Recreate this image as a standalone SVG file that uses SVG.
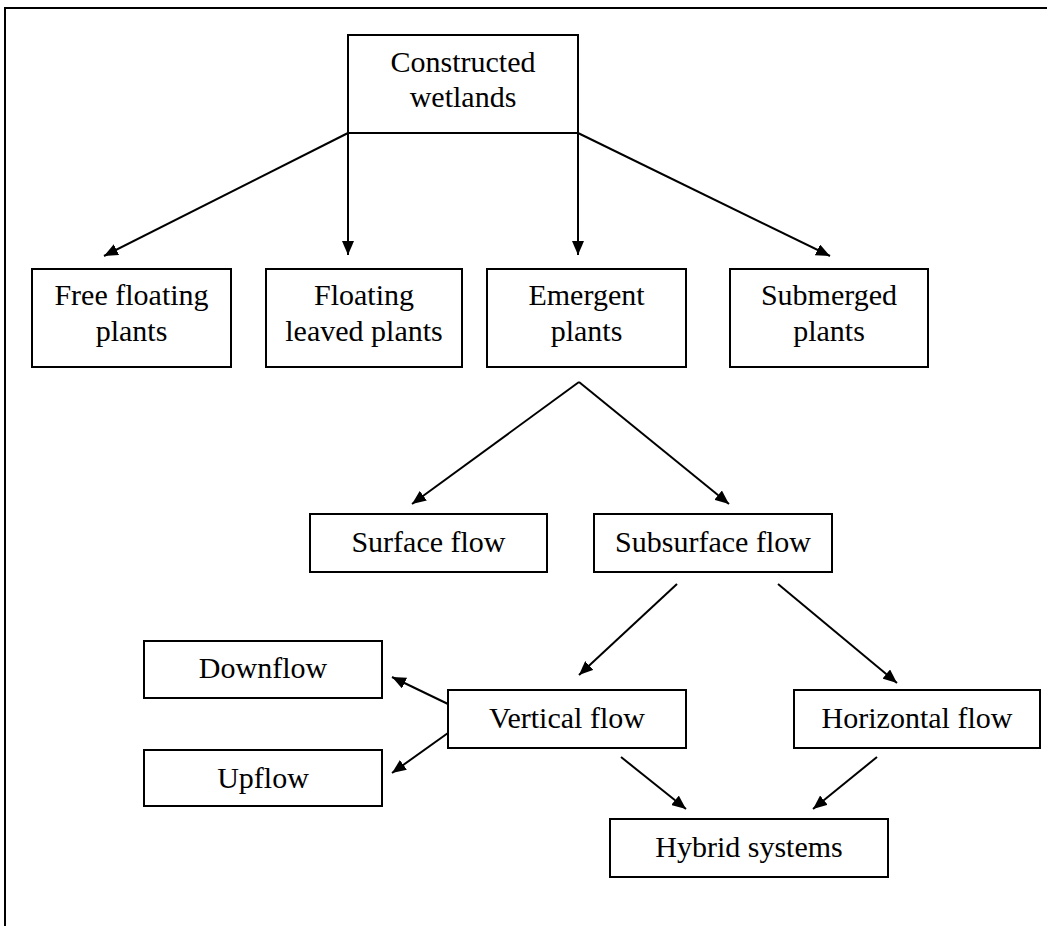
<svg xmlns="http://www.w3.org/2000/svg" width="1047" height="926" viewBox="0 0 1047 926">
<defs>
<marker id="ah" viewBox="0 0 14 12" refX="14" refY="6" markerWidth="14" markerHeight="12" markerUnits="userSpaceOnUse" orient="auto">
<path d="M0,0 L14,6 L0,12 z" fill="#000"/>
</marker>
<style>
.box{fill:#fff;stroke:#000;stroke-width:2}
.t{font-family:"Liberation Serif","Times New Roman",serif;font-size:30px;fill:#000;text-anchor:middle}
.c{stroke:#000;stroke-width:2;fill:none;marker-end:url(#ah)}
.frame{stroke:#000;stroke-width:2;fill:none}
</style>
</defs>
<rect width="1047" height="926" fill="#fff"/>
<path class="frame" d="M5,926 L5,8 L1047,8"/>
<g id="connectors">
<line class="c" x1="348" y1="133" x2="104" y2="256"/>
<line class="c" x1="348" y1="133" x2="348" y2="255"/>
<line class="c" x1="578" y1="133" x2="578" y2="255"/>
<line class="c" x1="578" y1="133" x2="830" y2="256"/>
<line class="c" x1="579" y1="382" x2="412" y2="504"/>
<line class="c" x1="579" y1="382" x2="729" y2="504"/>
<line class="c" x1="677" y1="584" x2="579" y2="675"/>
<line class="c" x1="778" y1="584" x2="897" y2="683"/>
<line class="c" x1="448" y1="704" x2="392" y2="677"/>
<line class="c" x1="448" y1="733" x2="392" y2="773"/>
<line class="c" x1="621" y1="757" x2="686" y2="809"/>
<line class="c" x1="877" y1="757" x2="813" y2="809"/>
</g>
<g id="constructed">
<rect class="box" x="348" y="35" width="230" height="98"/>
<text class="t" x="463" y="72">Constructed</text>
<text class="t" x="463" y="107">wetlands</text>
</g>
<g id="free">
<rect class="box" x="32" y="269" width="199" height="98"/>
<text class="t" x="131.5" y="305">Free floating</text>
<text class="t" x="131.5" y="341">plants</text>
</g>
<g id="leaved">
<rect class="box" x="266" y="269" width="196" height="98"/>
<text class="t" x="364" y="305">Floating</text>
<text class="t" x="364" y="341">leaved plants</text>
</g>
<g id="emergent">
<rect class="box" x="487" y="269" width="199" height="98"/>
<text class="t" x="586.5" y="305">Emergent</text>
<text class="t" x="586.5" y="341">plants</text>
</g>
<g id="submerged">
<rect class="box" x="730" y="269" width="198" height="98"/>
<text class="t" x="829" y="305">Submerged</text>
<text class="t" x="829" y="341">plants</text>
</g>
<g id="surface">
<rect class="box" x="310" y="514" width="237" height="58"/>
<text class="t" x="428.5" y="552">Surface flow</text>
</g>
<g id="subsurface">
<rect class="box" x="594" y="514" width="238" height="58"/>
<text class="t" x="713" y="552">Subsurface flow</text>
</g>
<g id="downflow">
<rect class="box" x="144" y="641" width="238" height="57"/>
<text class="t" x="263" y="678">Downflow</text>
</g>
<g id="upflow">
<rect class="box" x="144" y="750" width="238" height="56"/>
<text class="t" x="263" y="788">Upflow</text>
</g>
<g id="vertical">
<rect class="box" x="448" y="690" width="238" height="58"/>
<text class="t" x="567" y="728">Vertical flow</text>
</g>
<g id="horizontal">
<rect class="box" x="794" y="690" width="246" height="58"/>
<text class="t" x="917" y="728">Horizontal flow</text>
</g>
<g id="hybrid">
<rect class="box" x="610" y="819" width="278" height="58"/>
<text class="t" x="749" y="857">Hybrid systems</text>
</g>
</svg>
